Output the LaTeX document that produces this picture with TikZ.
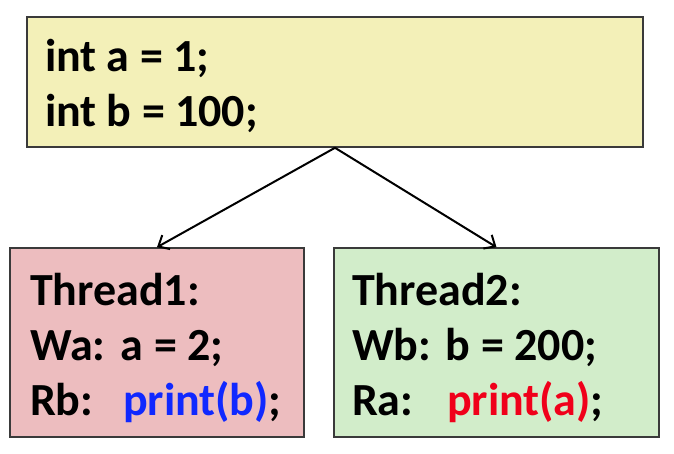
\documentclass[tikz,border=0pt]{standalone}
\usepackage{fontspec}
\setmainfont{Carlito}
\usetikzlibrary{arrows.meta}
\definecolor{yellowc}{HTML}{F3F0B8}
\definecolor{pinkc}{HTML}{EDBDBF}
\definecolor{greenc}{HTML}{D2EDCA}
\definecolor{bordc}{HTML}{3A3A3A}
\definecolor{bluec}{HTML}{1028FF}
\definecolor{redc}{HTML}{F0001A}
\newcommand{\myboxfont}{\bfseries\fontsize{46}{55}\selectfont}
\tikzset{
  box/.style={draw=bordc, line width=1.6pt, rectangle, align=flush left, anchor=center,
    font=\myboxfont, inner ysep=0pt},
  conn/.style={line width=2pt, -{Straight Barb[length=9pt,width=16pt,line width=2pt]}}
}
\begin{document}
\begin{tikzpicture}[x=1pt,y=-1pt]
\useasboundingbox (0,0) rectangle (674,454);
\node[box, fill=yellowc, minimum width=616pt, minimum height=130pt, inner xsep=18pt, text width=580pt] (init) at (335,82)
  {\rule{0pt}{40pt}int a = 1;\\int b = 100;};
\node[box, fill=pinkc, minimum width=294pt, minimum height=189pt, inner xsep=20pt, text width=254pt] (t1) at (157,342.5)
  {\rule{0pt}{44pt}Thread1:\\\makebox[91pt][l]{Wa:}a = 2;\\\makebox[93pt][l]{Rb:}\textcolor{bluec}{print(b)};};
\node[box, fill=greenc, minimum width=325pt, minimum height=189pt, inner xsep=18pt, text width=289pt] (t2) at (496.5,342.5)
  {\rule{0pt}{44pt}Thread2:\\\makebox[94pt][l]{Wb:}b = 200;\\\makebox[95pt][l]{Ra:}\textcolor{redc}{print(a)};};
\draw[conn] (init.south) -- (t1.north);
\draw[conn] (init.south) -- (t2.north);
\end{tikzpicture}
\end{document}
